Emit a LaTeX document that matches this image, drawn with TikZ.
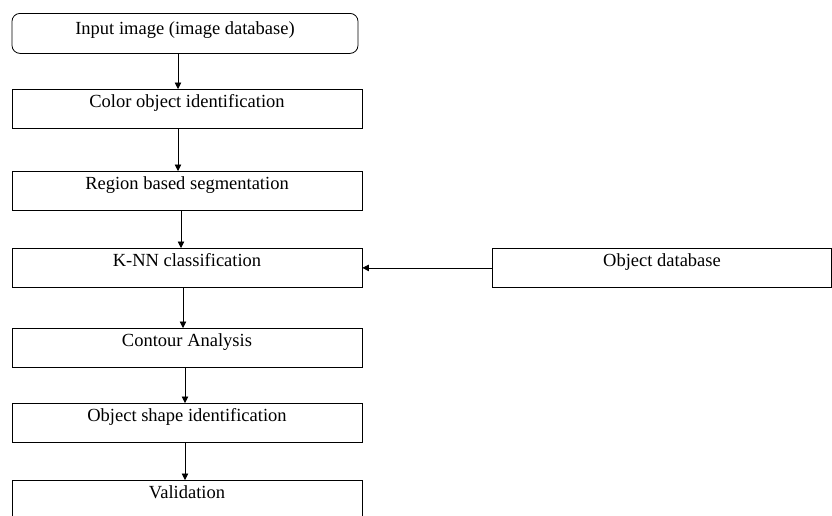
\documentclass[tikz,border=0pt]{standalone}
\usepackage{fontspec}
\setmainfont{Liberation Serif}
\usetikzlibrary{arrows.meta}
\usetikzlibrary{positioning}

\tikzset{
  stepbox/.style={draw, rectangle, line width=0.8pt, inner sep=0pt,
    minimum width=350pt, text height=18pt, text depth=21pt,
    anchor=north, font=\fontsize{18.5}{21}\selectfont},
  startbox/.style={stepbox, rounded corners=8pt, minimum width=346pt,
    text height=21pt, text depth=19pt},
  dbbox/.style={stepbox, minimum width=339pt},
  flow/.style={line width=0.7pt, -{Triangle[length=6.5pt,width=6.5pt]}}
}

\begin{document}
\begin{tikzpicture}[x=1pt,y=-1pt]
  \useasboundingbox (0,0) rectangle (832,515);

  % main chain of steps
  \node[startbox] (input)   at (185,13)  {Input image (image database)};
  \node[stepbox]  (color)   at (187,89)  {Color object identification};
  \node[stepbox]  (region)  at (187,171) {Region based segmentation};
  \node[stepbox]  (knn)     at (187,248) {K-NN classification};
  \node[stepbox]  (contour) at (187,328) {Contour Analysis};
  \node[stepbox]  (shape)   at (187,403) {Object shape identification};
  \node[stepbox]  (valid)   at (187,480) {Validation};

  % side input
  \node[dbbox]    (objdb)   at (662,248) {Object database};

  % arrows
  \draw[flow] ([xshift=-7pt]input.south)   -- ([xshift=-9pt]color.north);
  \draw[flow] ([xshift=-9pt]color.south)   -- ([xshift=-9pt]region.north);
  \draw[flow] ([xshift=-6pt]region.south)  -- ([xshift=-6pt]knn.north);
  \draw[flow] ([xshift=-4pt]knn.south)     -- ([xshift=-4pt]contour.north);
  \draw[flow] ([xshift=-2pt]contour.south) -- ([xshift=-2pt]shape.north);
  \draw[flow] ([xshift=-2pt]shape.south)   -- ([xshift=-2pt]valid.north);
  \draw[flow] (objdb.west) -- (knn.east);
\end{tikzpicture}
\end{document}
